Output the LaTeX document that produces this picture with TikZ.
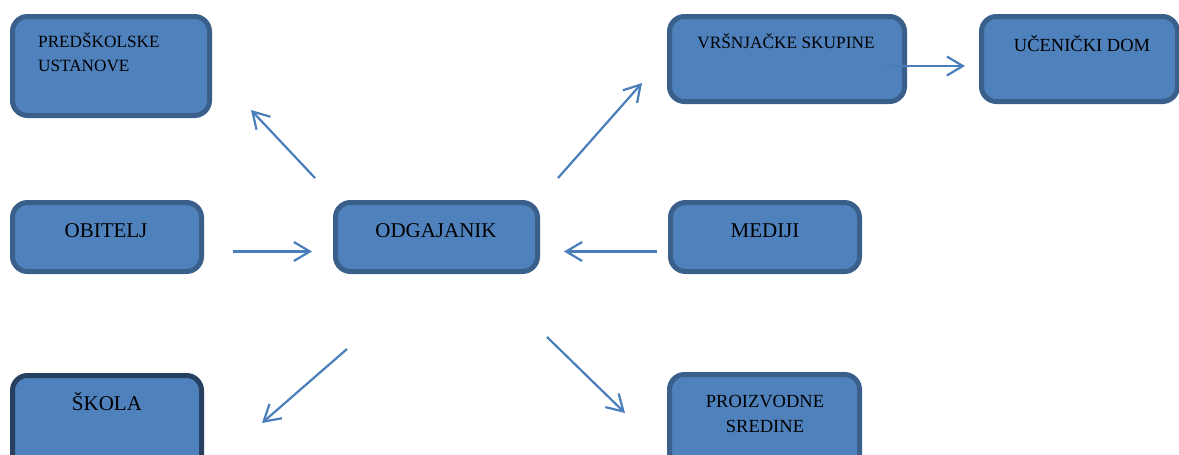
\documentclass[tikz,border=0pt]{standalone}
\usepackage{fontspec}
\setmainfont{Liberation Serif}
\usetikzlibrary{arrows.meta}
\definecolor{boxfill}{HTML}{4F81BD}
\definecolor{boxline}{HTML}{3A5F8B}
\definecolor{boxdark}{HTML}{27405F}
\definecolor{arrowc}{HTML}{4A7EBB}
\tikzset{
  box/.style={draw=boxline, fill=boxfill, line width=5pt, rounded corners=15pt, rectangle, inner sep=0pt, outer sep=0pt},
  lbl/.style={anchor=base, inner sep=0pt, text=black},
  conn/.style={draw=arrowc, line width=2.2pt, -{Straight Barb[length=16pt,width=19pt,line width=2.2pt]}},
}
\begin{document}
\begin{tikzpicture}[x=1pt,y=-1pt]
\useasboundingbox (0,0) rectangle (1179,455);
\clip (0,0) rectangle (1179,455);
% boxes
\node[box, minimum width=197pt, minimum height=99pt] (pred) at (111,66) {};
\node[box, minimum width=189pt, minimum height=69pt] (obi) at (107,237) {};
\node[box, draw=boxdark, minimum width=189pt, minimum height=105pt] (skola) at (107,428) {};
\node[box, minimum width=202pt, minimum height=69pt] (odg) at (436.5,237) {};
\node[box, minimum width=235pt, minimum height=85pt] (vrs) at (787,59) {};
\node[box, minimum width=196pt, minimum height=85pt] (ucen) at (1079.5,59) {};
\node[box, minimum width=189pt, minimum height=69pt] (med) at (765,237) {};
\node[box, minimum width=190pt, minimum height=107pt] (proiz) at (764.5,428) {};
% labels
\node[lbl, anchor=base west, font=\fontsize{17.2}{20}\selectfont] (predA) at (38,47) {PREDŠKOLSKE};
\node[lbl, anchor=base west, font=\fontsize{17.2}{20}\selectfont] (predB) at (38,71) {USTANOVE};
\node[lbl, font=\fontsize{21}{24}\selectfont] (obiL) at (106,237) {OBITELJ};
\node[lbl, font=\fontsize{21}{24}\selectfont] (skolaL) at (107,410) {ŠKOLA};
\node[lbl, font=\fontsize{21}{24}\selectfont] (odgL) at (436,237) {ODGAJANIK};
\node[lbl, font=\fontsize{21}{24}\selectfont] (medL) at (765,237) {MEDIJI};
\node[lbl, font=\fontsize{17.3}{20}\selectfont] (vrsL) at (786,48) {VRŠNJAČKE SKUPINE};
\node[lbl, font=\fontsize{18.5}{21}\selectfont] (ucenL) at (1082,51) {UČENIČKI DOM};
\node[lbl, font=\fontsize{18.5}{21}\selectfont] (proizA) at (765,407) {PROIZVODNE};
\node[lbl, font=\fontsize{18.5}{21}\selectfont] (proizB) at (765,432) {SREDINE};
% arrow end points
\coordinate (a1s) at (315,178); \coordinate (a1e) at (251,110);
\coordinate (a2s) at (233,251.5); \coordinate (a2e) at (312,251.5);
\coordinate (a3s) at (347,349); \coordinate (a3e) at (262,423);
\coordinate (a4s) at (558,178); \coordinate (a4e) at (642,83);
\coordinate (a5s) at (657,251.5); \coordinate (a5e) at (564,251.5);
\coordinate (a6s) at (547,337); \coordinate (a6e) at (625,413);
\coordinate (a7s) at (882,66); \coordinate (a7e) at (965,66);
% connectors
\draw[conn] (a1s) -- (a1e);
\draw[conn] (a2s) -- (a2e);
\draw[conn] (a3s) -- (a3e);
\draw[conn] (a4s) -- (a4e);
\draw[conn] (a5s) -- (a5e);
\draw[conn] (a6s) -- (a6e);
\draw[conn] (a7s) -- (a7e);
\end{tikzpicture}
\end{document}
